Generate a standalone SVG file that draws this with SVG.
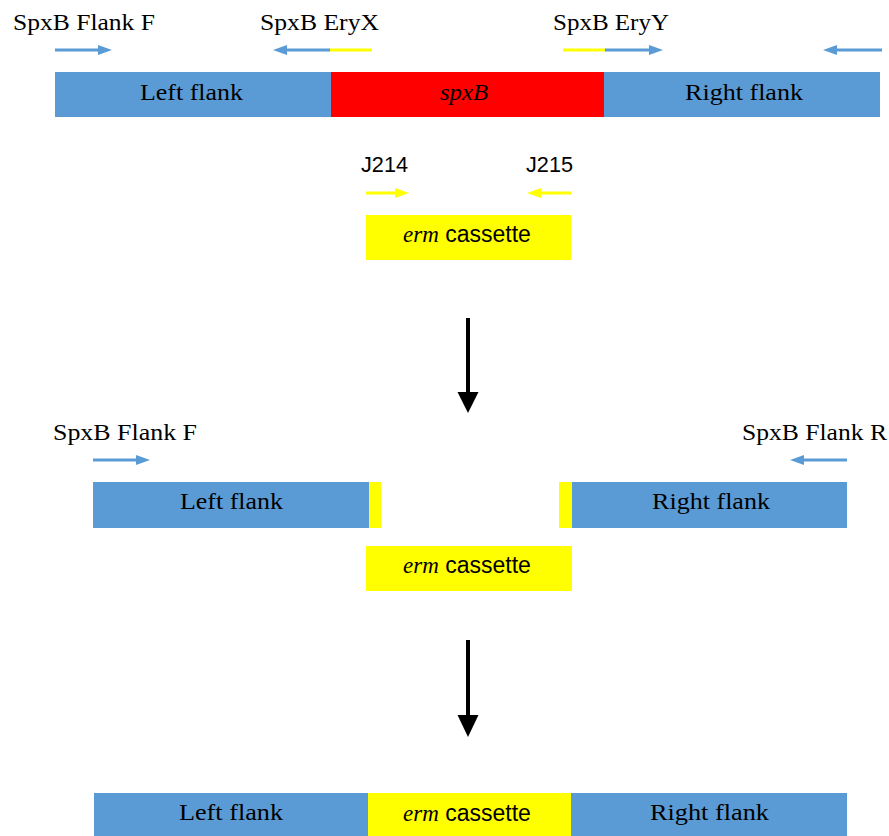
<svg xmlns="http://www.w3.org/2000/svg" width="889" height="836" viewBox="0 0 889 836">
  <style>
    .flank { fill: #5B9BD5; }
    .gene { fill: #FF0000; }
    .erm { fill: #FFFF00; }
    .lbl { font-family: "Liberation Serif", "Times New Roman", serif; font-size: 24px; fill: #000; }
    .sans { font-family: "Liberation Sans", Arial, sans-serif; font-size: 22px; fill: #000; }
    .cas { font-family: "Liberation Sans", Arial, sans-serif; font-size: 23px; fill: #000; }
    .it { font-family: "Liberation Serif", "Times New Roman", serif; font-style: italic; }
    .pb { stroke: #5B9BD5; stroke-width: 3; fill: none; }
    .py { stroke: #FFFF00; stroke-width: 3; fill: none; }
    .step { stroke: #000; stroke-width: 4; fill: none; }
  </style>
  <defs>
    <marker id="headBlue" viewBox="0 0 14 10" refX="0" refY="5" markerWidth="14" markerHeight="10" markerUnits="userSpaceOnUse" orient="auto">
      <path d="M0,0 L14,5 L0,10 z" fill="#5B9BD5"/>
    </marker>
    <marker id="headYellow" viewBox="0 0 14 10" refX="0" refY="5" markerWidth="14" markerHeight="10" markerUnits="userSpaceOnUse" orient="auto">
      <path d="M0,0 L14,5 L0,10 z" fill="#FFFF00"/>
    </marker>
  </defs>

  <rect width="889" height="836" fill="#fff"/>

  <!-- Wild-type locus -->
  <g id="wt-locus">
    <rect class="flank" x="55" y="72" width="276" height="45"/>
    <rect class="gene" x="331" y="72" width="273" height="45"/>
    <rect class="flank" x="604" y="72" width="276" height="45"/>
    <text class="lbl" x="140" y="100" textLength="103" lengthAdjust="spacingAndGlyphs">Left flank</text>
    <text class="lbl it" x="440" y="100" textLength="48" lengthAdjust="spacingAndGlyphs">spxB</text>
    <text class="lbl" x="685" y="100" textLength="118" lengthAdjust="spacingAndGlyphs">Right flank</text>
  </g>

  <!-- Primers on the wild-type locus -->
  <g id="primers-wt">
    <text class="lbl" x="13" y="30" textLength="142" lengthAdjust="spacingAndGlyphs">SpxB Flank F</text>
    <line class="pb" x1="55" y1="50" x2="98" y2="50" marker-end="url(#headBlue)"/>
    <text class="lbl" x="260" y="30" textLength="119" lengthAdjust="spacingAndGlyphs">SpxB EryX</text>
    <line class="py" x1="329" y1="50" x2="372" y2="50"/>
    <line class="pb" x1="330" y1="50" x2="287" y2="50" marker-end="url(#headBlue)"/>
    <text class="lbl" x="553" y="30" textLength="116" lengthAdjust="spacingAndGlyphs">SpxB EryY</text>
    <line class="py" x1="563" y1="50" x2="606" y2="50"/>
    <line class="pb" x1="605" y1="50" x2="649" y2="50" marker-end="url(#headBlue)"/>
    <line class="pb" x1="882" y1="50" x2="837" y2="50" marker-end="url(#headBlue)"/>
  </g>

  <!-- erm cassette with its primers -->
  <g id="erm-cassette">
    <text class="sans" x="361" y="172" textLength="47" lengthAdjust="spacingAndGlyphs">J214</text>
    <text class="sans" x="526" y="172" textLength="47" lengthAdjust="spacingAndGlyphs">J215</text>
    <line class="py" x1="366" y1="193" x2="395" y2="193" marker-end="url(#headYellow)"/>
    <line class="py" x1="571" y1="193" x2="541" y2="193" marker-end="url(#headYellow)"/>
    <rect class="erm" x="366" y="215" width="205" height="45"/>
    <text class="cas" x="403" y="242"><tspan class="it">erm</tspan> cassette</text>
  </g>

  <!-- Process steps -->
  <g id="connectors">
    <line class="step" x1="468" y1="318" x2="468" y2="394"/>
    <polygon points="457.5,392 478.5,392 468,413" fill="#000"/>
    <line class="step" x1="468" y1="640" x2="468" y2="717"/>
    <polygon points="457.5,715 478.5,715 468,737" fill="#000"/>
  </g>

  <!-- Amplified fragments -->
  <g id="fragments">
    <text class="lbl" x="53" y="440" textLength="144" lengthAdjust="spacingAndGlyphs">SpxB Flank F</text>
    <line class="pb" x1="93" y1="460" x2="136" y2="460" marker-end="url(#headBlue)"/>
    <rect class="flank" x="93" y="482" width="276" height="46"/>
    <rect class="erm" x="369" y="482" width="12" height="46"/>
    <text class="lbl" x="180" y="509" textLength="103" lengthAdjust="spacingAndGlyphs">Left flank</text>

    <text class="lbl" x="742" y="440" textLength="145" lengthAdjust="spacingAndGlyphs">SpxB Flank R</text>
    <line class="pb" x1="847" y1="460" x2="804" y2="460" marker-end="url(#headBlue)"/>
    <rect class="erm" x="559" y="482" width="13" height="46"/>
    <rect class="flank" x="572" y="482" width="275" height="46"/>
    <text class="lbl" x="652" y="509" textLength="118" lengthAdjust="spacingAndGlyphs">Right flank</text>

    <rect class="erm" x="366" y="546" width="206" height="45"/>
    <text class="cas" x="403" y="573"><tspan class="it">erm</tspan> cassette</text>
  </g>

  <!-- Assembled mutant locus -->
  <g id="mutant-locus">
    <rect class="flank" x="94" y="793" width="274" height="45"/>
    <rect class="erm" x="368" y="793" width="203" height="45"/>
    <rect class="flank" x="571" y="793" width="276" height="45"/>
    <text class="lbl" x="179" y="820" textLength="104" lengthAdjust="spacingAndGlyphs">Left flank</text>
    <text class="cas" x="403" y="821"><tspan class="it">erm</tspan> cassette</text>
    <text class="lbl" x="650" y="820" textLength="119" lengthAdjust="spacingAndGlyphs">Right flank</text>
  </g>
</svg>
